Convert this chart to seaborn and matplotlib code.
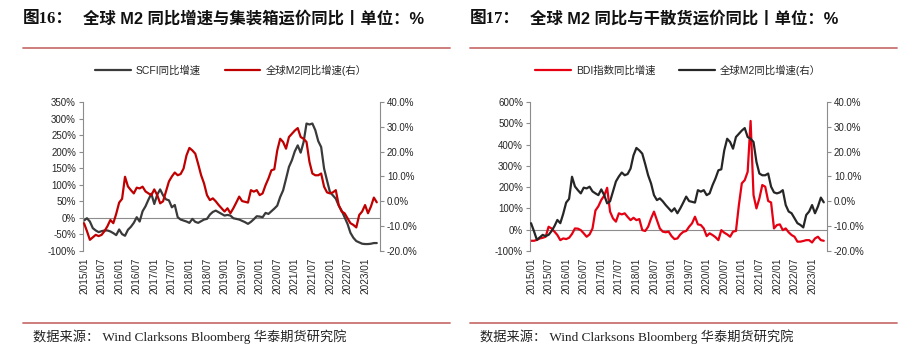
import numpy as np
import pandas as pd
import matplotlib
matplotlib.use("Agg")
import matplotlib.pyplot as plt
from matplotlib.lines import Line2D
from matplotlib.ticker import FuncFormatter
import seaborn as sns

# monthly data, 2015/01 .. 2023/05
months = pd.date_range("2015-01-01", periods=101, freq="MS").strftime("%Y/%m").tolist()

scfi = [-8, -1, -11, -31, -38, -43, -40, -38, -38, -41,
        -46, -52, -35, -49, -54, -36, -27, -15, 2, -11,
        20, 35, 55, 73, 42, 70, 86, 68, 56, 53,
        32, 39, 2, -5, -8, -11, -15, -3, -12, -15,
        -10, -5, -3, 10, 18, 22, 17, 12, 7, 9,
        7, -1, -3, -5, -9, -13, -18, -12, -4, 5,
        4, 2, 15, 12, 20, 28, 37, 63, 83, 118,
        154, 174, 201, 219, 197, 229, 285, 282, 285, 265,
        232, 214, 149, 113, 78, 68, 58, 37, 22, 2,
        -18, -45, -60, -70, -74, -78, -79, -79, -78, -76,
        -76]

m2 = [-8.8, -12, -15.5, -14.5, -13.5, -14, -13.5, -12, -10, -7.5,
      -8.8, -5, -0.5, 1, 9.9, 6, 4.5, 3.2, 5.5, 5.2,
      5.9, 4, 3.2, 2.5, 4.8, 2.5, -0.8, 0, 4, 8,
      10, 11.6, 10.5, 11, 13.2, 18.5, 21.5, 20.5, 19.2, 15,
      10.5, 7.2, 2.5, 0.5, 1.2, 0, -1.5, -2.8, -4.1, -2.8,
      -4.8, -2.8, -0.5, 1.9, 0.1, -0.2, -0.5, 4.5, 3.9, 4.5,
      2.5, 3.2, 6.5, 9.2, 12.5, 12.9, 20.5, 25.2, 23.9, 21.2,
      25.9, 27.2, 28.5, 29.5, 25.9, 25.2, 23.9, 15.9, 11.2, 10.5,
      10.5, 11.2, 5.9, 3.6, 3.2, 3.6, 4.5, -1.5, -4.1, -4.8,
      -6.8, -8.8, -9.5, -10.5, -5.5, -4.1, -1.5, -4.8, -2.1, 1.5,
      -0.4]

bdi = [-52, -52, -48, -41, -38, -33, 14, 6, -9, -25,
       -49, -41, -44, -38, -20, 6, 5, -2, -17, -33,
       -22, 6, 90, 110, 140, 160, 197, 85, 53, 38,
       77, 72, 77, 60, 45, 56, 45, 50, -2, -6,
       14, 53, 85, 45, 6, -9, -12, -9, -30, -44,
       -41, -22, -10, -6, 14, 30, 61, 25, 22, 6,
       -30, -17, -25, -35, -49, -2, -14, -22, -33, -9,
       -6, 116, 218, 233, 272, 511, 163, 100, 147, 210,
       202, 135, 128, 6, 22, 25, -2, 6, -12, -25,
       -33, -56, -56, -53, -49, -49, -60, -41, -33, -49,
       -52]

tick_labels = months[::6]

df = pd.DataFrame({"t": np.arange(len(months)), "scfi": scfi, "m2": m2, "bdi": bdi})

sns.set_style("white")
plt.rcParams["font.family"] = ["Liberation Sans", "Noto Sans CJK SC", "DejaVu Sans"]
plt.rcParams["axes.unicode_minus"] = False

W, H = 922, 360
fig = plt.figure(figsize=(9.22, 3.6), dpi=100)

def px(x, y):
    return x / W, 1 - y / H

def panel(x0, left_col, left_lab, left_color, right_lab, right_color, ylim, ystep,
          title_no, title, lx):
    ax = fig.add_axes([x0 / W, 1 - 251 / H, 297 / W, 149 / H])
    ax2 = ax.twinx()
    sns.lineplot(data=df, x="t", y=left_col, ax=ax, color=left_color, lw=1.6, label=left_lab)
    sns.lineplot(data=df, x="t", y="m2", ax=ax2, color=right_color, lw=1.6, label=right_lab)
    h1, l1 = ax.get_legend_handles_labels()
    h2, l2 = ax2.get_legend_handles_labels()
    for a in (ax, ax2):
        if a.get_legend():
            a.get_legend().remove()
        a.set_xlabel("")
        a.set_ylabel("")

    ax.set_xlim(-0.35, 101.1)
    ax.set_ylim(*ylim)
    ax.set_yticks(np.arange(ylim[0], ylim[1] + 1, ystep))
    ax.yaxis.set_major_formatter(FuncFormatter(lambda v, p: f"{v:.0f}%"))
    ax2.set_ylim(-20, 40)
    ax2.set_yticks(np.arange(-20, 41, 10))
    ax2.yaxis.set_major_formatter(FuncFormatter(lambda v, p: f"{v:.1f}%"))

    grey = "#8c8c8c"
    for a in (ax, ax2):
        for s in ("top", "left", "right", "bottom"):
            a.spines[s].set_visible(False)
    ax.spines["left"].set_visible(True)
    ax.spines["left"].set_color(grey)
    ax2.spines["right"].set_visible(True)
    ax2.spines["right"].set_color(grey)
    ax.spines["bottom"].set_visible(True)
    ax.spines["bottom"].set_position(("data", 0))
    ax.spines["bottom"].set_color(grey)
    ax.spines["bottom"].set_zorder(0)

    for a in (ax, ax2):
        a.tick_params(axis="y", direction="out", length=3, width=0.8, color=grey,
                      labelsize=7, labelcolor="#262626", pad=2)
    ax.set_xticks(np.arange(0, 101, 6))
    ax.tick_params(axis="x", direction="out", length=3, width=0.8, color=grey,
                   labelbottom=False)
    ax2.tick_params(axis="x", bottom=False, labelbottom=False)

    # date labels sit under the plot, ticks stay on the zero line
    sec = ax.secondary_xaxis(0)
    sec.set_xticks(np.arange(0, 101, 6), tick_labels)
    sec.tick_params(axis="x", length=0, pad=5, labelsize=7.2, labelcolor="#262626",
                    labelrotation=90)
    sec.spines["bottom"].set_visible(False)

    cx = x0 + 148
    fig.legend(h1 + h2, l1 + l2, loc="center", bbox_to_anchor=px(cx, 70), ncol=2,
               frameon=False, fontsize=7.5, handlelength=3.4, handletextpad=0.5,
               columnspacing=2.3)

    fig.text(*px(lx, 19), title_no, fontsize=12, fontweight="bold", va="center",
             ha="left", color="#111111", family=["Liberation Serif", "Noto Sans CJK SC"])
    fig.text(*px(lx + 60, 19), title, fontsize=11.8, fontweight="bold", va="center",
             ha="left", color="#111111")
    line_c = "#c97372"
    fig.add_artist(Line2D([lx / W, (lx + 427) / W], [1 - 48 / H] * 2,
                          transform=fig.transFigure, color=line_c, lw=1.3))
    fig.add_artist(Line2D([lx / W, (lx + 427) / W], [1 - 322.5 / H] * 2,
                          transform=fig.transFigure, color=line_c, lw=1.3))
    fig.text(*px(lx + 10, 337), "数据来源： Wind Clarksons Bloomberg 华泰期货研究院",
             fontsize=9.5, va="center", ha="left", color="#222222",
             family=["Liberation Serif", "Noto Sans CJK SC"])
    return ax, ax2

panel(83, "scfi", "SCFI同比增速", "#3a3a3a", "全球M2同比增速(右）", "#c00000",
      (-100, 350), 50, "图16：", "全球 M2 同比增速与集装箱运价同比丨单位：%", 23)
panel(530, "bdi", "BDI指数同比增速", "#e60012", "全球M2同比增速(右）", "#262626",
      (-100, 600), 100, "图17：", "全球 M2 同比与干散货运价同比丨单位：%", 470)

fig.savefig("out.png", dpi=100)
